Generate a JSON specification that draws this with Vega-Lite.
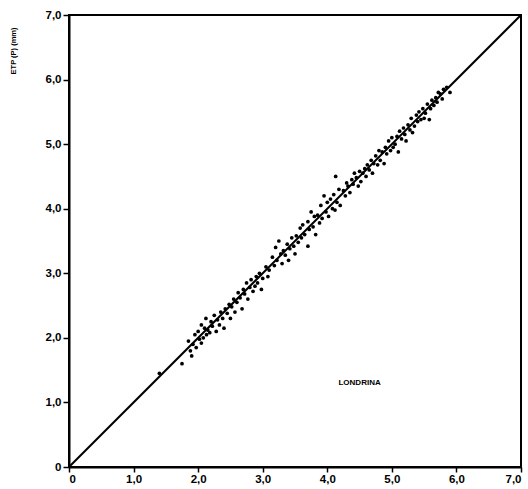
{
  "$schema": "https://vega.github.io/schema/vega-lite/v6.json",
  "width": 452,
  "height": 452,
  "autosize": {"type": "none"},
  "padding": {"left": 69, "top": 15, "right": 7, "bottom": 22},
  "background": "white",
  "config": {
    "view": {"stroke": "black", "strokeWidth": 2},
    "axis": {"grid": false, "domainColor": "black", "domainWidth": 2, "tickColor": "black", "tickWidth": 1.5,
      "labelColor": "black", "labelFont": "Liberation Sans", "labelFontWeight": "bold", "labelFontSize": 11.5}
  },
  "datasets": {
    "pts": [
      {"x":1.40,"y":1.45},{"x":1.75,"y":1.60},{"x":1.85,"y":1.95},{"x":1.88,"y":1.80},{"x":1.90,"y":1.72},
      {"x":1.92,"y":1.90},{"x":1.95,"y":2.05},{"x":1.97,"y":1.85},{"x":2.00,"y":2.10},{"x":2.02,"y":1.98},
      {"x":2.05,"y":2.20},{"x":2.05,"y":1.92},{"x":2.08,"y":2.00},{"x":2.10,"y":2.15},{"x":2.12,"y":2.30},
      {"x":2.13,"y":2.05},{"x":2.15,"y":2.12},{"x":2.18,"y":2.08},{"x":2.20,"y":2.25},{"x":2.22,"y":2.18},
      {"x":2.25,"y":2.35},{"x":2.28,"y":2.10},{"x":2.30,"y":2.28},{"x":2.33,"y":2.20},{"x":2.35,"y":2.40},
      {"x":2.38,"y":2.30},{"x":2.40,"y":2.15},{"x":2.42,"y":2.45},{"x":2.45,"y":2.38},{"x":2.48,"y":2.52},
      {"x":2.50,"y":2.30},{"x":2.52,"y":2.48},{"x":2.55,"y":2.60},{"x":2.57,"y":2.40},{"x":2.60,"y":2.55},
      {"x":2.62,"y":2.70},{"x":2.65,"y":2.62},{"x":2.68,"y":2.45},{"x":2.70,"y":2.75},{"x":2.72,"y":2.68},
      {"x":2.75,"y":2.85},{"x":2.77,"y":2.60},{"x":2.80,"y":2.78},{"x":2.82,"y":2.90},{"x":2.85,"y":2.72},
      {"x":2.88,"y":2.80},{"x":2.90,"y":2.95},{"x":2.92,"y":2.85},{"x":2.95,"y":3.00},{"x":2.98,"y":2.75},
      {"x":3.00,"y":2.92},{"x":3.05,"y":3.10},{"x":3.08,"y":2.95},{"x":3.10,"y":3.05},{"x":3.15,"y":3.25},
      {"x":3.18,"y":3.12},{"x":3.20,"y":3.40},{"x":3.22,"y":3.20},{"x":3.25,"y":3.50},{"x":3.28,"y":3.30},
      {"x":3.30,"y":3.15},{"x":3.32,"y":3.35},{"x":3.35,"y":3.28},{"x":3.38,"y":3.45},{"x":3.40,"y":3.20},
      {"x":3.42,"y":3.38},{"x":3.45,"y":3.55},{"x":3.48,"y":3.42},{"x":3.50,"y":3.30},{"x":3.52,"y":3.58},
      {"x":3.55,"y":3.48},{"x":3.58,"y":3.70},{"x":3.60,"y":3.55},{"x":3.62,"y":3.75},{"x":3.65,"y":3.60},
      {"x":3.70,"y":3.42},{"x":3.70,"y":3.80},{"x":3.72,"y":3.68},{"x":3.75,"y":3.95},{"x":3.78,"y":3.72},
      {"x":3.80,"y":3.88},{"x":3.82,"y":3.60},{"x":3.85,"y":3.90},{"x":3.88,"y":3.78},{"x":3.90,"y":4.05},
      {"x":3.92,"y":3.85},{"x":3.95,"y":4.20},{"x":3.98,"y":3.95},{"x":4.00,"y":4.10},{"x":4.02,"y":3.88},
      {"x":4.05,"y":4.15},{"x":4.08,"y":4.00},{"x":4.10,"y":4.22},{"x":4.12,"y":3.98},{"x":4.15,"y":4.10},
      {"x":4.18,"y":4.30},{"x":4.20,"y":4.05},{"x":4.13,"y":4.50},{"x":4.25,"y":4.28},{"x":4.28,"y":4.20},
      {"x":4.30,"y":4.40},{"x":4.32,"y":4.35},{"x":4.35,"y":4.25},{"x":4.38,"y":4.45},{"x":4.40,"y":4.38},
      {"x":4.42,"y":4.55},{"x":4.45,"y":4.48},{"x":4.48,"y":4.35},{"x":4.50,"y":4.58},{"x":4.52,"y":4.42},
      {"x":4.55,"y":4.55},{"x":4.58,"y":4.62},{"x":4.60,"y":4.50},{"x":4.62,"y":4.68},{"x":4.65,"y":4.60},
      {"x":4.68,"y":4.75},{"x":4.70,"y":4.55},{"x":4.72,"y":4.70},{"x":4.75,"y":4.82},{"x":4.78,"y":4.68},
      {"x":4.80,"y":4.90},{"x":4.82,"y":4.75},{"x":4.85,"y":4.88},{"x":4.88,"y":4.70},{"x":4.90,"y":4.95},
      {"x":4.92,"y":4.85},{"x":4.95,"y":5.05},{"x":4.98,"y":4.90},{"x":5.00,"y":5.10},{"x":5.02,"y":4.95},
      {"x":5.05,"y":5.00},{"x":5.08,"y":5.12},{"x":5.10,"y":4.88},{"x":5.12,"y":5.20},{"x":5.15,"y":5.08},
      {"x":5.18,"y":5.25},{"x":5.20,"y":5.15},{"x":5.22,"y":5.05},{"x":5.25,"y":5.30},{"x":5.28,"y":5.22},
      {"x":5.30,"y":5.40},{"x":5.32,"y":5.18},{"x":5.35,"y":5.28},{"x":5.38,"y":5.45},{"x":5.40,"y":5.35},
      {"x":5.42,"y":5.50},{"x":5.45,"y":5.38},{"x":5.48,"y":5.55},{"x":5.50,"y":5.40},{"x":5.52,"y":5.48},
      {"x":5.55,"y":5.62},{"x":5.58,"y":5.38},{"x":5.60,"y":5.55},{"x":5.62,"y":5.68},{"x":5.65,"y":5.60},
      {"x":5.68,"y":5.72},{"x":5.70,"y":5.65},{"x":5.72,"y":5.80},{"x":5.75,"y":5.78},{"x":5.78,"y":5.70},
      {"x":5.80,"y":5.85},{"x":5.85,"y":5.88},{"x":5.90,"y":5.80}
    ],
    "line": [{"x":0,"y":0},{"x":7,"y":7}],
    "lab": [{"x":4.5,"y":1.3,"t":"LONDRINA"}]
  },
  "layer": [
    {
      "data": {"name": "line"},
      "mark": {"type": "line", "color": "black", "strokeWidth": 2},
      "encoding": {
        "x": {"field": "x", "type": "quantitative", "scale": {"domain": [0, 7], "nice": false},
          "axis": {"title": null, "values": [0,1,2,3,4,5,6,7], "tickSize": 5, "labelPadding": 1,
            "labelExpr": "datum.value == 0 ? '0' : replace(format(datum.value, '.1f'), '.', ',')"}},
        "y": {"field": "y", "type": "quantitative", "scale": {"domain": [0, 7], "nice": false},
          "axis": {"title": "ETP (P) (mm)", "values": [0,1,2,3,4,5,6,7], "tickSize": 6, "labelPadding": 2,
            "labelExpr": "datum.value == 0 ? '0' : replace(format(datum.value, '.1f'), '.', ',')",
            "titleAnchor": "end", "titleFontSize": 7.5, "titleFont": "Liberation Sans", "titleFontWeight": "bold",
            "titleX": -52, "titleY": 12, "titleAlign": "right", "titleColor": "black"}}
      }
    },
    {
      "data": {"name": "pts"},
      "mark": {"type": "circle", "color": "black", "opacity": 1, "size": 14},
      "encoding": {
        "x": {"field": "x", "type": "quantitative"},
        "y": {"field": "y", "type": "quantitative"}
      }
    },
    {
      "data": {"name": "lab"},
      "mark": {"type": "text", "font": "Liberation Sans", "fontWeight": "bold", "fontSize": 8, "color": "black"},
      "encoding": {
        "x": {"field": "x", "type": "quantitative"},
        "y": {"field": "y", "type": "quantitative"},
        "text": {"field": "t"}
      }
    }
  ]
}
